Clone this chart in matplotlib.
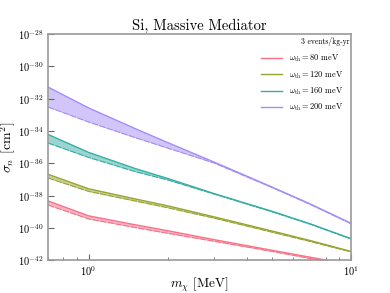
import numpy as np
import matplotlib
matplotlib.use("Agg")
import matplotlib.pyplot as plt
import seaborn as sns

plt.rcParams['font.family'] = 'serif'
plt.rcParams['font.serif'] = ['cmr10']
plt.rcParams['mathtext.fontset'] = 'cm'
plt.rcParams['axes.formatter.use_mathtext'] = True

# masa DM [MeV]
m_chi = [0.7, 1.0, 1.5, 2.0, 3.0, 5.0, 7.0, 10.0]

# log10(sigma_n / cm^2): gorna i dolna granica pasma
thresholds = [80, 120, 160, 200]
upper = {
    80:  [-38.32, -39.24, -39.79, -40.16, -40.71, -41.37, -41.80, -42.26],
    120: [-36.67, -37.57, -38.19, -38.62, -39.30, -40.18, -40.77, -41.44],
    160: [-34.21, -35.32, -36.31, -36.93, -37.86, -38.96, -39.74, -40.65],
    200: [-31.28, -32.57, -33.84, -34.71, -35.91, -37.46, -38.51, -39.70],
}
lower = {
    80:  [-38.57, -39.43, -39.96, -40.32, -40.81, -41.44, -41.88, -42.33],
    120: [-36.90, -37.73, -38.32, -38.74, -39.38, -40.25, -40.83, -41.47],
    160: [-34.74, -35.63, -36.50, -37.02, -37.89, -38.99, -39.76, -40.67],
    200: [-32.51, -33.44, -34.40, -35.05, -35.97, -37.49, -38.54, -39.73],
}

colors = sns.color_palette("husl", 4)

fig = plt.figure(figsize=(3.9, 2.93), dpi=100)
ax = fig.add_axes([0.123, 0.111, 0.777, 0.773])

for c, w in zip(colors, thresholds):
    hi = 10.0 ** np.array(upper[w])
    lo = 10.0 ** np.array(lower[w])
    ax.fill_between(m_chi, lo, hi, color=c, alpha=0.5, lw=0)
    ax.plot(m_chi, hi, color=c, lw=1.0, label=r"$\omega_{\rm th} = %d$ meV" % w)
    ax.plot(m_chi, lo, color=c, lw=0.8, ls=(0, (6, 1)))

ax.set_xscale('log')
ax.set_yscale('log')
ax.set_xlim(0.7, 10)
ax.set_ylim(1e-42, 1e-28)
ax.set_yticks([10.0 ** k for k in range(-42, -27, 2)])
ax.yaxis.set_minor_locator(matplotlib.ticker.NullLocator())

ax.set_title("Si, Massive Mediator", fontsize=10.5, pad=3)
ax.set_xlabel(r"$m_\chi$ [MeV]", fontsize=9.5, labelpad=-2)
ax.set_ylabel(r"$\sigma_n$ [cm$^2$]", fontsize=10, labelpad=0)
ax.tick_params(which='both', direction='in', labelsize=7.5, color='#666666', pad=3)
ax.tick_params(which='major', length=4)
ax.tick_params(which='minor', length=2)
for s in ax.spines.values():
    s.set_color('#999999')
    s.set_linewidth(1.2)

ax.text(0.995, 0.985, "3 events/kg-yr", transform=ax.transAxes,
        ha='right', va='top', fontsize=5.5)
leg = ax.legend(loc='upper right', bbox_to_anchor=(1.0, 0.95), frameon=False,
                fontsize=6, handlelength=2.6, labelspacing=0.6)

plt.savefig("out.png", dpi=100)
